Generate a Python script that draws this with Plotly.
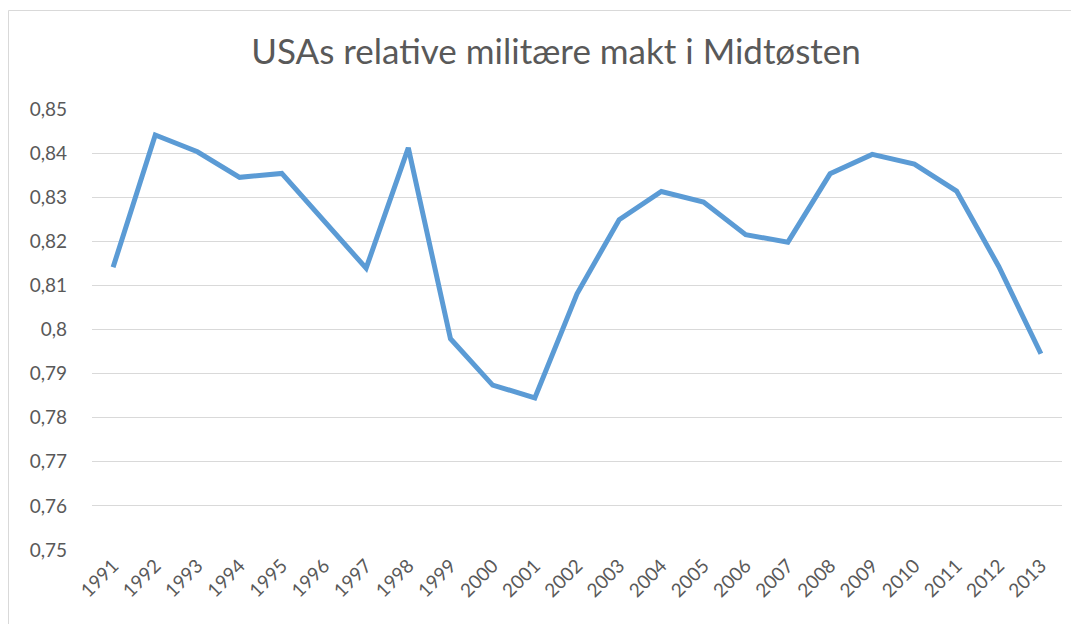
import plotly.graph_objects as go

years = [str(y) for y in range(1991, 2014)]
values = [0.8141, 0.8441, 0.8403, 0.8345, 0.8354, 0.8248, 0.8139, 0.8412,
          0.7979, 0.7874, 0.7845, 0.8081, 0.8249, 0.8313, 0.8289, 0.8215,
          0.8198, 0.8353, 0.8397, 0.8375, 0.8314, 0.8143, 0.7945]
ytick_vals = [0.75, 0.76, 0.77, 0.78, 0.79, 0.80, 0.81, 0.82, 0.83, 0.84, 0.85]
ytick_text = ["0,75", "0,76", "0,77", "0,78", "0,79", "0,8", "0,81", "0,82", "0,83", "0,84", "0,85"]
title = "USAs relative militære makt i Midtøsten"

# page body has an 8px margin; compensate so the plot lands where the reference has it
OFF = 8
W, H = 1063, 616
ml, mt = 92 - OFF, 109 - OFF
pw, ph = 970, 441
mr = W - ml - pw
mb = H - mt - ph

def px_to_paper_x(px):
    return (px - OFF - ml) / pw

def px_to_paper_y(py):
    return (mt + ph - (py - OFF)) / ph

font_family = "Lato, 'Open Sans', sans-serif"
grey = "#595959"

fig = go.Figure()
fig.add_trace(go.Scatter(
    x=years, y=values, mode="lines",
    line=dict(color="#5B9BD5", width=5),
    hoverinfo="x+y", showlegend=False,
))

fig.update_layout(
    width=W, height=H,
    margin=dict(l=ml, r=mr, t=mt, b=mb, autoexpand=False),
    paper_bgcolor="white", plot_bgcolor="white",
    title=dict(text=title, x=px_to_paper_x(556), xref="paper", xanchor="center",
               y=1 - (52 - OFF) / H, yanchor="middle",
               font=dict(family=font_family, size=35, color=grey)),
    font=dict(family=font_family, color=grey, size=19),
    xaxis=dict(type="category", range=[-0.5, len(years) - 0.5], tickangle=-45,
               showgrid=False, showline=False, ticks="",
               tickfont=dict(size=19, color=grey), fixedrange=True),
    yaxis=dict(range=[0.75, 0.85], tickvals=ytick_vals, ticktext=ytick_text,
               showgrid=True, gridcolor="#D9D9D9", gridwidth=1.3,
               zeroline=False, showline=False, ticks="",
               ticklabelstandoff=24,
               tickfont=dict(size=19, color=grey), fixedrange=True),
    shapes=[dict(type="line", xref="paper", yref="paper",
                 x0=px_to_paper_x(8.5), x1=px_to_paper_x(8.5),
                 y0=px_to_paper_y(640), y1=px_to_paper_y(10.5),
                 line=dict(color="#D9D9D9", width=1), layer="below"),
            dict(type="line", xref="paper", yref="paper",
                 x0=px_to_paper_x(8.5), x1=px_to_paper_x(1090),
                 y0=px_to_paper_y(10.5), y1=px_to_paper_y(10.5),
                 line=dict(color="#D9D9D9", width=1), layer="below")],
)

fig.write_html("out.html")
